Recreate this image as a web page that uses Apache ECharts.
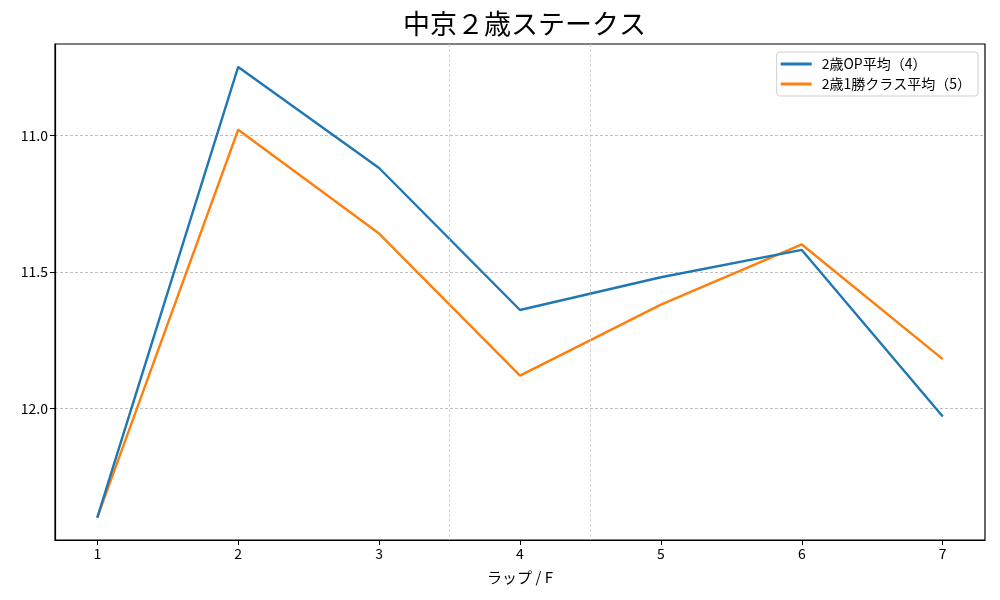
<!DOCTYPE html>
<html><head><meta charset="utf-8">
<script src="https://cdn.jsdelivr.net/npm/echarts@6/dist/echarts.min.js"></script>
<style>html,body{margin:0;padding:0;background:#fff}#c{width:1000px;height:600px}</style>
</head><body><div id="c"></div>
<script>
const laps = [1, 2, 3, 4, 5, 6, 7];
const opAvg = [12.40, 10.75, 11.12, 11.64, 11.52, 11.42, 12.03];
const win1Avg = [12.40, 10.98, 11.36, 11.88, 11.62, 11.40, 11.82];
const yTicks = [11.0, 11.5, 12.0];
const vLines = [3.5, 4.5];
const seriesNames = ['2歳OP平均（4）', '2歳1勝クラス平均（5）'];
const titleText = '中京２歳ステークス';
const xName = 'ラップ / F';

const font = '"Noto Sans CJK JP", "DejaVu Sans", sans-serif';
const chart = echarts.init(document.getElementById('c'), null, {renderer: 'canvas'});
const pair = (arr) => laps.map((x, i) => [x, arr[i]]);
chart.setOption({
  animation: false,
  backgroundColor: '#fff',
  textStyle: {fontFamily: font},
  title: {text: titleText, left: 398, top: 5,
    textStyle: {fontFamily: font, fontSize: 27, fontWeight: 'normal', color: '#000'}},
  grid: {left: 55, right: 15, top: 44, bottom: 60, show: true, borderColor: '#000', borderWidth: 1.2, containLabel: false},
  legend: {
    right: 22, top: 52, orient: 'vertical', itemGap: 6,
    itemWidth: 31, itemHeight: 3,
    padding: [5, 7, 5, 4],
    borderColor: '#d0d0d0', borderWidth: 1, borderRadius: 3,
    backgroundColor: 'rgba(255,255,255,0.8)',
    textStyle: {fontFamily: font, fontSize: 14, color: '#000', padding: [0, 0, 0, 5]},
    data: seriesNames.map(n => ({name: n, icon: 'rect'}))
  },
  xAxis: {
    type: 'value', min: 0.7, max: 7.3,
    name: xName, nameLocation: 'middle', nameGap: 30,
    nameTextStyle: {fontFamily: font, fontSize: 15, color: '#000'},
    axisLine: {show: true, onZero: false, lineStyle: {color: '#000', width: 1.2}},
    axisTick: {show: true, length: 5, lineStyle: {color: '#000'}, customValues: laps},
    axisLabel: {customValues: laps, color: '#000', fontSize: 14, margin: 7, fontFamily: font},
    splitLine: {show: false}
  },
  yAxis: {
    type: 'value', inverse: true, min: 10.666, max: 12.482,
    axisLine: {show: true, onZero: false, lineStyle: {color: '#000', width: 1.2}},
    axisTick: {show: true, length: 5, lineStyle: {color: '#000'}, customValues: yTicks},
    axisLabel: {customValues: yTicks, color: '#000', fontSize: 14, margin: 7, fontFamily: font,
      formatter: v => v.toFixed(1)},
    splitLine: {show: true, lineStyle: {color: '#b0b0b0', type: [3, 2], width: 0.8}}
  },
  series: [
    {name: seriesNames[0], type: 'line', data: pair(opAvg), symbol: 'none',
      lineStyle: {color: '#1f77b4', width: 2.4}, itemStyle: {color: '#1f77b4'}, z: 3,
      markLine: {silent: true, symbol: 'none', label: {show: false},
        lineStyle: {color: '#c8c8c8', type: [3, 2], width: 0.8},
        data: vLines.map(v => ({xAxis: v}))}},
    {name: seriesNames[1], type: 'line', data: pair(win1Avg), symbol: 'none',
      lineStyle: {color: '#ff7f0e', width: 2.4}, itemStyle: {color: '#ff7f0e'}, z: 2}
  ]
});
</script></body></html>
